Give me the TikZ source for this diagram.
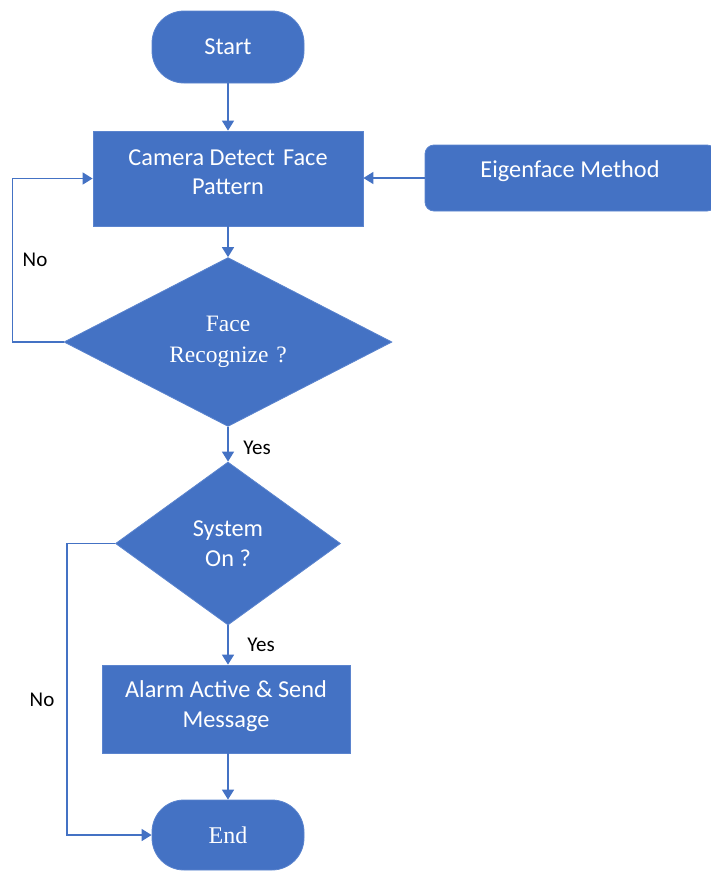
\documentclass[tikz,border=0pt]{standalone}
\usepackage{fontspec}
\setmainfont{Carlito}
\newfontfamily\serifrm{Liberation Serif}
\usetikzlibrary{shapes.geometric,arrows.meta}
\definecolor{ofblue}{HTML}{4472C4}
\definecolor{ofedge}{HTML}{5B84CE}
\begin{document}
\begin{tikzpicture}[x=1pt,y=-1pt,
  base/.style={fill=ofblue, draw=ofedge, line width=0.8pt, text=white, align=center,
    font=\fontsize{24.3}{29.5}\selectfont, inner sep=0pt},
  intext/.style={text=white, align=center, font=\fontsize{24.3}{29.5}\selectfont, inner sep=0pt},
  term/.style={base, rectangle, rounded corners=32pt, minimum width=152pt, minimum height=72pt},
  proc/.style={base, rectangle, minimum width=270pt, minimum height=95pt},
  decision/.style={base, diamond},
  arr/.style={draw=ofblue, line width=1.6pt, -{Triangle[width=12pt,length=10pt]}},
  lbl/.style={text=black, font=\fontsize{21}{25}\selectfont, inner sep=0pt}
]
\useasboundingbox (0,0) rectangle (710,873);

\node[term] (start) at (228,47) {Start};
\node[proc, label={[intext, yshift=6.5pt]center:{Camera Detect\,\,Face\\Pattern}}] (camera) at (228,178.5) {};
\node[base, rectangle, rounded corners=9pt, minimum width=291pt, minimum height=66pt,
  label={[intext, xshift=-0.5pt, yshift=7pt]center:{Eigenface Method}}] (eigen) at (570.5,178) {};
\node[decision, minimum width=328pt, minimum height=164pt, font=\serifrm\fontsize{23.5}{31}\selectfont] (d1) at (228,342) {Face\\Recognize\,\,?};
\node[decision, minimum width=225pt, minimum height=163pt] (d2) at (228,543.5) {System\\On ?};
\node[proc, minimum width=248pt, minimum height=88pt,
  label={[intext, yshift=3pt]center:{Alarm Active \& Send\\Message}}] (alarm) at (226,709) {};
\node[term, minimum height=70pt, font=\serifrm\fontsize{24}{29}\selectfont] (end) at (228,835) {End};

\draw[arr] (start) -- (camera);
\draw[arr] (eigen.west) -- (camera.east |- eigen.west);
\draw[arr] (camera) -- (d1);
\draw[arr] (d1.west) -- ++(-51,0) |- (camera.west);
\draw[arr] (d1) -- (d2);
\draw[arr] (d2.west) -- ++(-48,0) |- (end.west);
\draw[arr] (d2) -- (d2.south |- alarm.north);
\draw[arr] (alarm.south -| end.north) -- (end);

\node[lbl] (no1) at (35,260) {No};
\node[lbl] (yes1) at (257,448) {Yes};
\node[lbl] (yes2) at (261,645) {Yes};
\node[lbl] (no2) at (42,700) {No};
\end{tikzpicture}
\end{document}
